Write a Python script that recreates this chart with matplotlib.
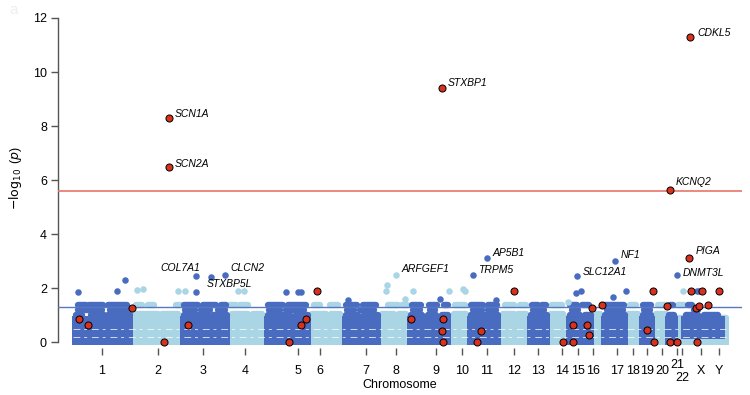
import matplotlib
matplotlib.use("Agg")
import matplotlib.pyplot as plt
import matplotlib.transforms as mtransforms

plt.rcParams['font.family'] = ['Liberation Sans', 'DejaVu Sans']

DARK = '#4a6cc0'
LIGHT = '#a9d5e4'
RED = '#d8321f'

# chromosome ticks (cumulative genome position, arbitrary units)
chrom_labels = ['1', '2', '3', '4', '5', '6', '7', '8', '9', '10', '11', '12',
                '13', '14', '15', '16', '17', '18', '19', '20', '21', '22', 'X', 'Y']
chrom_pos = [44, 100, 145, 187, 240, 262, 308, 338, 378, 404, 429, 456,
             480, 504, 520, 535, 559, 575, 589, 604, 619, 624, 643, 661]

# dense bulk of genes: (start, end, bottom) drawn as solid blocks
dark_blocks = [(17, 46, 0), (50, 72, 0), (125, 169, 0), (209, 250, 0), (287, 320, 0),
               (352, 365, 0), (369, 390, 0), (412, 440, 0), (472, 489, 0),
               (511, 533, 0), (546, 567, 0), (584, 594, 0), (610, 617, 0),
               (626, 664, 0.22)]
dark_block_top = 0.85
light_band = [(72, 668)]
light_band_top = 0.72

# partially filled rows of points, (level, start, end)
dark_rows = [
    (1.0, 18, 24), (1.0, 33, 46), (1.0, 50, 72), (1.0, 126, 150), (1.0, 155, 169),
    (1.0, 210, 232), (1.0, 238, 250), (1.0, 288, 300), (1.0, 306, 320),
    (1.0, 353, 364), (1.0, 370, 378), (1.0, 384, 390), (1.0, 413, 440),
    (1.0, 473, 489), (1.0, 512, 522), (1.0, 527, 533), (1.0, 547, 567),
    (1.0, 585, 593), (1.0, 611, 616), (1.0, 628, 640), (1.0, 646, 660),
    (1.18, 20, 34), (1.18, 38, 44), (1.18, 52, 69), (1.18, 127, 137),
    (1.18, 143, 152), (1.18, 160, 167), (1.18, 211, 222), (1.18, 228, 246),
    (1.18, 289, 296), (1.18, 302, 316), (1.18, 355, 362), (1.18, 372, 377),
    (1.18, 415, 424), (1.18, 430, 438), (1.18, 475, 486), (1.18, 514, 520),
    (1.18, 549, 565), (1.18, 586, 592), (1.18, 636, 640),
    (1.37, 20, 28), (1.37, 31, 45), (1.37, 50, 69), (1.37, 126, 140),
    (1.37, 145, 158), (1.37, 163, 168), (1.37, 210, 225), (1.37, 230, 248),
    (1.37, 288, 299), (1.37, 305, 318), (1.37, 354, 363), (1.37, 371, 379),
    (1.37, 386, 390), (1.37, 413, 425), (1.37, 430, 439), (1.37, 474, 480),
    (1.37, 484, 488), (1.37, 512, 519), (1.37, 524, 531), (1.37, 547, 566),
    (1.37, 585, 593), (1.37, 612, 615), (1.37, 630, 634),
]
light_rows = [
    (0.88, 72, 124), (0.88, 170, 208), (0.88, 251, 286), (0.88, 321, 352),
    (0.88, 392, 411), (0.88, 441, 471), (0.88, 490, 510), (0.88, 533, 545),
    (0.88, 568, 584), (0.88, 595, 610), (0.88, 618, 625), (0.88, 664, 668),
    (1.05, 76, 100), (1.05, 104, 120), (1.05, 174, 190), (1.05, 195, 204),
    (1.05, 254, 268), (1.05, 273, 282), (1.05, 324, 336), (1.05, 341, 348),
    (1.05, 396, 408), (1.05, 445, 456), (1.05, 460, 468), (1.05, 493, 505),
    (1.05, 536, 542), (1.05, 570, 580), (1.05, 598, 608),
    (1.37, 78, 84), (1.37, 90, 96), (1.37, 118, 123), (1.37, 172, 178),
    (1.37, 182, 190), (1.37, 256, 262), (1.37, 272, 280), (1.37, 330, 340),
    (1.37, 344, 349), (1.37, 397, 407), (1.37, 447, 456), (1.37, 462, 468),
    (1.37, 494, 504), (1.37, 572, 578), (1.37, 600, 608), (1.37, 620, 626),
]
# small gaps between discrete p-value levels, visible as broken white lines
gap_levels = [0.17, 0.5]
gap_span = (15, 668)

# scattered points above the bulk
dark_x = [20, 59, 67, 138, 228, 240, 243, 290, 382, 438, 518, 523, 555, 568, 639, 641]
dark_y = [1.85, 1.9, 2.3, 1.85, 1.85, 1.85, 1.85, 1.55, 1.6, 1.55, 1.8, 1.9, 1.67, 1.9, 1.9, 1.9]
light_x = [79, 85, 120, 127, 180, 186, 328, 329, 347, 355, 391, 405, 407, 510, 625]
light_y = [1.93, 1.97, 1.9, 1.9, 1.9, 1.9, 1.9, 2.1, 1.6, 1.9, 1.9, 1.97, 1.9, 1.5, 1.9]

# known epilepsy genes (red)
red_x = [21, 30, 74, 106, 130, 231, 243, 248, 259, 353, 385, 384, 385, 419, 423,
         456, 505, 515, 515, 529, 531, 534, 544, 589, 595, 596, 609, 612, 619,
         633, 639, 638, 641, 644, 650, 661]
red_y = [0.85, 0.63, 1.26, 0, 0.63, 0, 0.63, 0.85, 1.9, 0.85, 0.85, 0.4, 0, 0, 0.4,
         1.9, 0, 0, 0.63, 0.63, 0.26, 1.26, 1.37, 0.44, 1.9, 0, 1.33, 0, 0,
         1.9, 0, 1.26, 1.33, 1.9, 1.37, 1.9]

# labelled genes: name, position, -log10 p, colour, label offset (pt), alignment
genes = ['SCN1A', 'SCN2A', 'STXBP1', 'CDKL5', 'KCNQ2', 'PIGA', 'COL7A1', 'STXBP5L',
         'CLCN2', 'ARFGEF1', 'AP5B1', 'TRPM5', 'NF1', 'SLC12A1', 'DNMT3L']
gene_x = [111, 111, 384, 632, 612, 631, 138, 153, 167, 338, 429, 415, 557, 519, 619]
gene_y = [8.3, 6.5, 9.4, 11.3, 5.63, 3.1, 2.44, 2.4, 2.48, 2.5, 3.1, 2.5, 3.0, 2.44, 2.5]
gene_col = [RED, RED, RED, RED, RED, RED, DARK, DARK, DARK, LIGHT, DARK, DARK, DARK, DARK, DARK]
gene_dx = [4, 4, 4, 5, 4, 5, 3, -3, 4, 4, 4, 4, 4, 4, 4]
gene_dy = [3, 2, 4, 3, 6, 5, 6, -5, 5, 4, 4, 3, 4, 3, 1]
gene_ha = ['left'] * 6 + ['right'] + ['left'] * 8

sig_line = 5.6
sugg_line = 1.3

fig = plt.figure(figsize=(7.5, 3.95), dpi=100)
ax = fig.add_axes([58 / 750, 1 - 348 / 395, 684 / 750, 330 / 395])
ax.set_xlim(0, 684)
ax.set_ylim(-0.22, 12)

rx = 3.2          # marker radius in x units
ry = 0.12         # marker radius in y units
lw_dot = 4.6

for s, e in light_band:
    ax.bar(s - rx, light_band_top + 2 * ry, width=e - s + 2 * rx, bottom=-ry,
           align='edge', color=LIGHT, lw=0, zorder=1)
for lvl, s, e in light_rows:
    ax.plot([s, e], [lvl, lvl], color=LIGHT, lw=lw_dot, solid_capstyle='round', zorder=1)
for s, e, b in dark_blocks:
    ax.bar(s - rx, dark_block_top - b + 2 * ry, width=e - s + 2 * rx, bottom=b - ry,
           align='edge', color=DARK, lw=0, zorder=2)
for lvl, s, e in dark_rows:
    ax.plot([s, e], [lvl, lvl], color=DARK, lw=lw_dot, solid_capstyle='round', zorder=2)
for lvl in gap_levels:
    ax.plot(gap_span, [lvl, lvl], color='white', lw=0.7, alpha=0.75,
            dashes=(7, 4, 3, 5), zorder=2.5)

ax.scatter(light_x, light_y, s=22, color=LIGHT, lw=0, zorder=2)
ax.scatter(dark_x, dark_y, s=22, color=DARK, lw=0, zorder=3)

ax.axhline(sugg_line, color='#5877c2', lw=1.0, zorder=3)
ax.axhline(sig_line, color='#e8766c', lw=1.2, zorder=3)

ax.scatter(red_x, red_y, s=26, color=RED, edgecolor='black', lw=0.7, zorder=5)

for name, x, y, c, dx, dy, ha in zip(genes, gene_x, gene_y, gene_col, gene_dx, gene_dy, gene_ha):
    if c == RED:
        ax.scatter(x, y, s=26, color=RED, edgecolor='black', lw=0.7, zorder=5)
    else:
        ax.scatter(x, y, s=22, color=c, lw=0, zorder=4)
    ax.annotate(name, (x, y), xytext=(dx, dy), textcoords='offset points',
                ha=ha, va='center', fontsize=7.5, style='italic', zorder=6)

# axes styling
for side in ['top', 'right', 'bottom']:
    ax.spines[side].set_visible(False)
ax.spines['left'].set_bounds(0, 12)
ax.spines['left'].set_color('#555555')
ax.spines['left'].set_linewidth(1.0)
ax.set_yticks(range(0, 13, 2))
ax.tick_params(axis='y', length=5, width=1.0, color='#555555', labelsize=9, pad=3)

ax.set_xticks(chrom_pos)
tick_text = [lab if lab not in ('21', '22') else '' for lab in chrom_labels]
ax.set_xticklabels(tick_text)
ax.tick_params(axis='x', length=5, width=1.0, color='#555555', labelsize=9, pad=7)
trans = mtransforms.blended_transform_factory(ax.transData, ax.transAxes)
ax.text(chrom_pos[chrom_labels.index('21')], -0.052, '21', transform=trans,
        ha='center', va='center', fontsize=9)
ax.text(chrom_pos[chrom_labels.index('22')], -0.09, '22', transform=trans,
        ha='center', va='center', fontsize=9)

ax.set_xlabel('Chromosome', fontsize=9, labelpad=2)
ax.set_ylabel(r'$-\log_{10}$ ($p$)', fontsize=9)
ax.yaxis.set_label_coords(-0.05, 0.515)
fig.text(0.012, 0.975, 'a', color='#eeeeee', fontsize=11, va='center')

fig.savefig('out.png', dpi=100)
